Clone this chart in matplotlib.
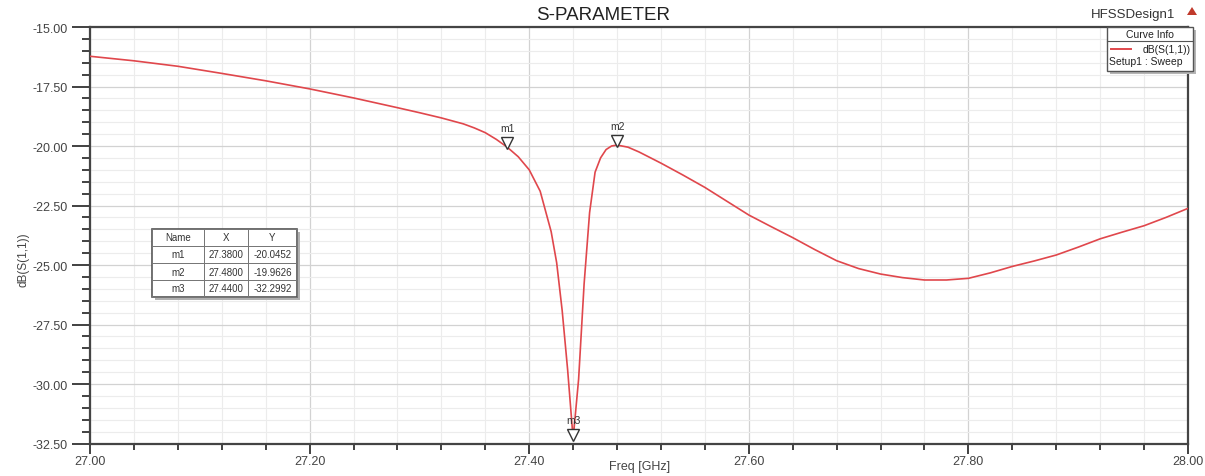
import matplotlib
matplotlib.use("Agg")
import matplotlib.pyplot as plt
from matplotlib.patches import Rectangle, Polygon
from matplotlib.lines import Line2D
from matplotlib.ticker import MultipleLocator, FormatStrFormatter
import matplotlib.transforms as mtransforms

plt.rcParams['font.family'] = ['Liberation Sans', 'DejaVu Sans']

# ---- data ----
freq = [27.00, 27.04, 27.08, 27.12, 27.16, 27.20, 27.24, 27.28, 27.30, 27.32,
        27.34, 27.35, 27.36, 27.37, 27.38, 27.39, 27.40, 27.41, 27.42, 27.425,
        27.43, 27.435, 27.44, 27.445, 27.45, 27.455, 27.46, 27.465, 27.47, 27.475,
        27.48, 27.49, 27.50, 27.52, 27.54, 27.56, 27.58, 27.60, 27.62, 27.64,
        27.66, 27.68, 27.70, 27.72, 27.74, 27.76, 27.78, 27.80, 27.82, 27.84,
        27.86, 27.88, 27.90, 27.92, 27.94, 27.96, 27.98, 28.00]
s11_db = [-16.23, -16.42, -16.65, -16.95, -17.26, -17.60, -17.98, -18.39, -18.60, -18.82,
          -19.07, -19.24, -19.44, -19.72, -20.05, -20.45, -21.00, -21.90, -23.60, -24.90,
          -26.90, -29.40, -32.30, -29.80, -25.80, -22.80, -21.10, -20.50, -20.15, -20.00,
          -19.96, -20.05, -20.25, -20.72, -21.22, -21.74, -22.32, -22.90, -23.38, -23.85,
          -24.35, -24.82, -25.15, -25.38, -25.53, -25.63, -25.63, -25.56, -25.33, -25.06,
          -24.83, -24.58, -24.25, -23.90, -23.62, -23.35, -23.00, -22.62]

marker_names = ["m1", "m2", "m3"]
marker_x = [27.38, 27.48, 27.44]
marker_y = [-20.0452, -19.9626, -32.2992]

title_text = "S-PARAMETER"
design_name = "HFSSDesign1"
curve_name = "dB(S(1,1))"
sweep_name = "Setup1 : Sweep"
xlabel_text = "Freq [GHz]"
ylabel_text = "dB(S(1,1))"

W, H = 1205, 477
fig = plt.figure(figsize=(W / 100, H / 100), dpi=100)
fig.patch.set_facecolor('white')

def fx(x):
    return x / W

def fy(y):
    return 1 - y / H

ax_l, ax_r, ax_t, ax_b = 90, 1188, 28, 444.5
ax = fig.add_axes([fx(ax_l), fy(ax_b), (ax_r - ax_l) / W, (ax_b - ax_t) / H])

curve_color = '#e0474c'
ax.plot(freq, s11_db, color=curve_color, lw=1.2, zorder=3)

ax.set_xlim(27.0, 28.0)
ax.set_ylim(-32.5, -15.0)
ax.xaxis.set_major_locator(MultipleLocator(0.2))
ax.xaxis.set_minor_locator(MultipleLocator(0.04))
ax.yaxis.set_major_locator(MultipleLocator(2.5))
ax.yaxis.set_minor_locator(MultipleLocator(0.5))
ax.xaxis.set_major_formatter(FormatStrFormatter('%.2f'))
ax.yaxis.set_major_formatter(FormatStrFormatter('%.2f'))

ax.grid(which='major', color='#d2d2d2', lw=0.9, zorder=0)
ax.grid(which='minor', color='#ececec', lw=0.8, zorder=0)
ax.set_axisbelow(True)

for s in ax.spines.values():
    s.set_color('#444444')
    s.set_linewidth(1.6)

ax.tick_params(axis='y', which='major', length=13, width=1.3, color='#333333',
               labelsize=9, labelcolor='#444444', pad=3)
ax.tick_params(axis='y', which='minor', length=6, width=1.3, color='#333333')
ax.tick_params(axis='x', which='major', length=7, width=1.3, color='#333333',
               labelsize=9, labelcolor='#444444', pad=1)
ax.tick_params(axis='x', which='minor', length=4, width=1.3, color='#333333')

fig.text(fx(640), fy(467), xlabel_text, ha='center', va='center', fontsize=9, color='#444444')
fig.text(fx(23), fy(260), ylabel_text, ha='center', va='center', rotation=90,
         fontsize=8.5, color='#444444')

# markers
tri_tr = mtransforms.offset_copy(ax.transData, fig=fig, x=0, y=4, units='dots')
for name, mx, my in zip(marker_names, marker_x, marker_y):
    ax.plot([mx], [my], marker='v', markersize=8, markerfacecolor='white',
            markeredgecolor='#333333', markeredgewidth=1.0, transform=tri_tr,
            zorder=5, clip_on=False)
    ax.annotate(name, (mx, my), xytext=(0, 10), textcoords='offset points',
                ha='center', va='bottom', fontsize=7.5, color='#333333', zorder=6,
                annotation_clip=False)

# title and design name
fig.text(fx(603), fy(15), title_text, ha='center', va='center', fontsize=13.5, color='#222222')
fig.text(fx(1133), fy(15), design_name, ha='center', va='center', fontsize=9.5, color='#333333')
fig.add_artist(Polygon([(fx(1187), fy(16)), (fx(1197), fy(16)), (fx(1192), fy(8))],
                       closed=True, facecolor='#c0392b', edgecolor='none',
                       transform=fig.transFigure))

# Curve Info legend box
lx0, lx1, ly0, ly1 = 1107, 1193, 28, 72
fig.add_artist(Rectangle((fx(lx0 + 3), fy(ly1 + 3)), (lx1 - lx0) / W, (ly1 - ly0) / H,
                         transform=fig.transFigure, facecolor='#b5b5b5', edgecolor='none', zorder=8))
fig.add_artist(Rectangle((fx(lx0), fy(ly1)), (lx1 - lx0) / W, (ly1 - ly0) / H,
                         transform=fig.transFigure, facecolor='white', edgecolor='#555555',
                         lw=1.0, zorder=9))
fig.add_artist(Line2D([fx(lx0), fx(lx1)], [fy(42), fy(42)], transform=fig.transFigure,
                      color='#555555', lw=0.8, zorder=10))
fig.text(fx(1150), fy(35), "Curve Info", ha='center', va='center', fontsize=7.5,
         color='#222222', zorder=10)
fig.add_artist(Line2D([fx(1111), fx(1131)], [fy(50), fy(50)], transform=fig.transFigure,
                      color=curve_color, lw=1.4, zorder=10))
fig.text(fx(1191), fy(50), curve_name, ha='right', va='center', fontsize=7.5,
         color='#222222', zorder=10)
fig.text(fx(1109), fy(62), sweep_name, ha='left', va='center', fontsize=7.5,
         color='#222222', zorder=10)

# marker table
tx0, ty0 = 152, 230
col_w = [52, 44, 49]
row_h = 17
rows = [["Name", "X", "Y"]] + [[n, "%.4f" % x, "%.4f" % y]
                               for n, x, y in zip(marker_names, marker_x, marker_y)]
tw = sum(col_w)
th = row_h * len(rows)
fig.add_artist(Rectangle((fx(tx0 + 3), fy(ty0 + th + 3)), tw / W, th / H,
                         transform=fig.transFigure, facecolor='#b0b0b0', edgecolor='none', zorder=8))
fig.add_artist(Rectangle((fx(tx0), fy(ty0 + th)), tw / W, th / H,
                         transform=fig.transFigure, facecolor='white', edgecolor='#555555',
                         lw=1.2, zorder=9))
for r, row in enumerate(rows):
    cx = tx0
    for c, val in enumerate(row):
        fig.add_artist(Rectangle((fx(cx), fy(ty0 + (r + 1) * row_h)), col_w[c] / W, row_h / H,
                                 transform=fig.transFigure, facecolor='none',
                                 edgecolor='#777777', lw=0.7, zorder=10))
        fig.text(fx(cx + col_w[c] / 2), fy(ty0 + r * row_h + row_h / 2), val,
                 ha='center', va='center', fontsize=7, color='#333333', zorder=11)
        cx += col_w[c]

fig.savefig("out.png", dpi=100, facecolor='white')
